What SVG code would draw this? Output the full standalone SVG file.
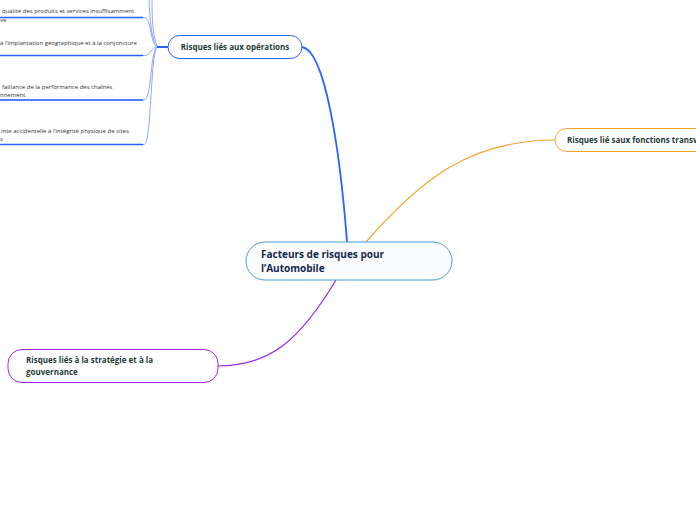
<svg xmlns="http://www.w3.org/2000/svg" width="696" height="520" viewBox="0 0 696 520">
<style>
.main{font-family:"Open Sans","Noto Sans",sans-serif;font-weight:bold;font-size:10px;fill:#15294f}
.lbl{font-family:"Open Sans","Noto Sans",sans-serif;font-weight:bold;font-size:8px;fill:#1d3c37}
.leaf{font-family:"Open Sans","Noto Sans",sans-serif;font-size:6px;fill:#333}
.thin{fill:none;stroke:#7d9dff;stroke-width:0.9}
.under{fill:none;stroke:#2962ff;stroke-width:1.5}
</style>
<rect width="696" height="520" fill="#fff"/>
<g id="connectors">
<path d="M302,47 C325,50 340,150 347,242" fill="none" stroke="#2962ff" stroke-width="1.8"/>
<path d="M366,242 C420,180 470,140 555,140" fill="none" stroke="#f9a227" stroke-width="1.2"/>
<path d="M336,280 C300,340 270,366 218,366" fill="none" stroke="#a020f0" stroke-width="1.2"/>
<path d="M158,47 C151,40 150,20 149,0" class="thin"/>
<path d="M158,47 C153,40 152,20 152,0" class="thin"/>
<path d="M0,17.5 H144 C152,17.5 150,47 158,47" class="thin"/>
<path d="M0,55.5 H144 C152,55.5 150,47 158,47" class="thin"/>
<path d="M0,100 H144 C152,100 150,47 158,47" class="thin"/>
<path d="M0,144.5 H144 C152,144.5 150,47 158,47" class="thin"/>
<path d="M0,17.5 H143" class="under"/>
<path d="M0,55.5 H143" class="under"/>
<path d="M0,100 H143" class="under"/>
<path d="M0,144.5 H143" class="under"/>
<path d="M157,47 H168" stroke="#2962ff" stroke-width="2" fill="none"/>
</g>
<g id="central">
<rect x="246" y="242" width="206" height="38" rx="19" fill="#fafcfe" stroke="#4a9ad4" stroke-width="1"/>
<text class="main" x="261" y="258">Facteurs de risques pour</text>
<text class="main" x="261" y="272">l’Automobile</text>
</g>
<g id="operations">
<rect x="168" y="35.5" width="134" height="23" rx="11.5" fill="#fff" stroke="#2962ff" stroke-width="1"/>
<text class="lbl" x="235" y="50" text-anchor="middle">Risques liés aux opérations</text>
</g>
<g id="transverses">
<rect x="555" y="128.5" width="160" height="23" rx="11.5" fill="#fff" stroke="#f9a227" stroke-width="1"/>
<text class="lbl" x="567" y="143">Risques lié saux fonctions transv</text>
</g>
<g id="strategie">
<rect x="8" y="349.5" width="210" height="33" rx="14" fill="#fff" stroke="#a020f0" stroke-width="1"/>
<text class="lbl" x="26" y="363">Risques liés à la stratégie et à la</text>
<text class="lbl" x="26" y="375">gouvernance</text>
</g>
<g id="leaf1">
<text class="leaf" x="2" y="13">qualité des produits et services insuffisamment</text>
<text class="leaf" x="0" y="22">ve</text>
</g>
<g id="leaf2">
<text class="leaf" x="0" y="44.5">à l’implantation géographique et à la conjoncture</text>
</g>
<g id="leaf3">
<text class="leaf" x="2" y="89">faillance de la performance des chaînes</text>
<text class="leaf" x="0" y="97">nnement</text>
</g>
<g id="leaf4">
<text class="leaf" x="1" y="133">inte accidentelle à l’intégrité physique de sites</text>
<text class="leaf" x="0" y="141">s</text>
</g>
</svg>
